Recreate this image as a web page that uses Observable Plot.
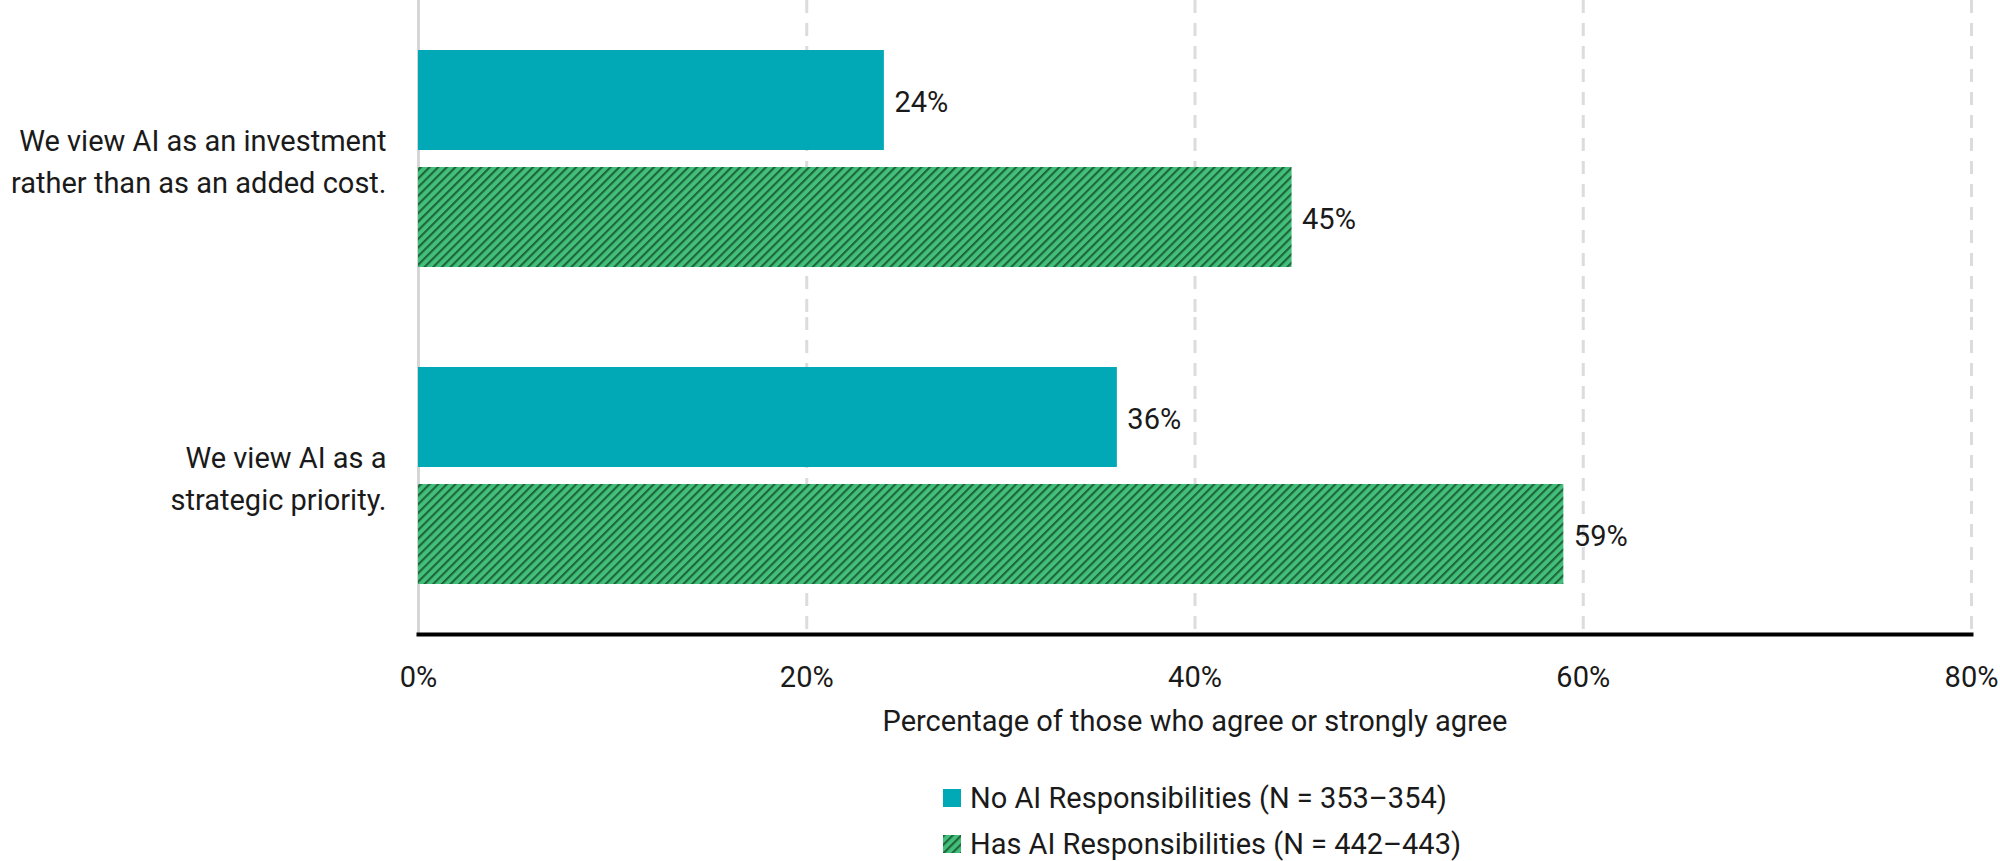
<!DOCTYPE html>
<html>
<head>
<meta charset="utf-8">
<script src="https://cdn.jsdelivr.net/npm/d3@7"></script>
<script src="https://cdn.jsdelivr.net/npm/@observablehq/plot@0.6"></script>
<style>
  html, body { margin: 0; padding: 0; background: #fff; }
  body { width: 2000px; height: 861px; overflow: hidden; font-family: Roboto, "Noto Sans", sans-serif; color: #1a1a1a; }
  #legend { padding-left: 943px; padding-top: 15px; font-size: 29px; }
  .row { display: flex; align-items: center; height: 46px; line-height: 46px; white-space: nowrap; }
  .sw { width: 18px; height: 18px; margin-right: 9px; flex: none; }
</style>
</head>
<body>
<div id="chart"></div>
<div id="legend"></div>
<script>
// ---- data ----
const questions = [
  "We view AI as an investment\nrather than as an added cost.",
  "We view AI as a\nstrategic priority."
];
const groups = [
  "No AI Responsibilities (N = 353–354)",
  "Has AI Responsibilities (N = 442–443)"
];
const noAIValues = [24, 36];
const hasAIValues = [45, 59];
const xTicks = [0, 20, 40, 60, 80];
const xLabel = "Percentage of those who agree or strongly agree";

const teal = "#00a9b5";
const green = "#42bf79";
const darkGreen = "#1e643c";

const rows = questions.flatMap((q, i) => [
  {question: q, group: groups[0], value: noAIValues[i]},
  {question: q, group: groups[1], value: hasAIValues[i]}
]);

const chart = Plot.plot({
  width: 2000,
  height: 760,
  marginLeft: 418,
  marginRight: 29,
  marginTop: 0,
  marginBottom: 126,
  style: {fontFamily: "Roboto, 'Noto Sans', sans-serif", fontSize: "29px", color: "#1a1a1a", background: "#fff"},
  x: {domain: [0, 80], ticks: xTicks},
  fy: {domain: questions, padding: 0, label: null},
  y: {domain: groups, paddingInner: 0.145, paddingOuter: 0.427, axis: null},
  marks: [
    Plot.ruleX(xTicks.slice(1), {stroke: "#dcdcdc", strokeWidth: 3, strokeDasharray: "13,10"}),
    Plot.ruleX([0], {stroke: "#d6d6d6", strokeWidth: 3}),
    Plot.barX(rows, {filter: d => d.group === groups[0], x: "value", y: "group", fy: "question", fill: teal}),
    Plot.barX(rows, {filter: d => d.group === groups[1], x: "value", y: "group", fy: "question", fill: "url(#hatchGreen)"}),
    Plot.text(rows, {x: "value", y: "group", fy: "question", text: d => d.value + "%", textAnchor: "start", dx: 10, dy: 2, fill: "#1a1a1a"}),
    Plot.frame({anchor: "bottom", stroke: "#000", strokeWidth: 4, facetAnchor: "bottom"}),
    Plot.axisFy({anchor: "left", tickSize: 0, tickPadding: 32, label: null, lineHeight: 1.45, fontSize: 29}),
    Plot.axisX({anchor: "bottom", ticks: xTicks, tickSize: 0, tickPadding: 32, tickFormat: d => d + "%",
      label: xLabel, labelAnchor: "center", labelArrow: "none", labelOffset: 96})
  ]
});

const defs = document.createElementNS("http://www.w3.org/2000/svg", "defs");
defs.innerHTML = `<pattern id="hatchGreen" patternUnits="userSpaceOnUse" width="6.1" height="6.1" patternTransform="rotate(45)">
  <rect width="6.1" height="6.1" fill="${green}"></rect><rect width="2.1" height="6.1" fill="${darkGreen}"></rect></pattern>`;
chart.insertBefore(defs, chart.firstChild);
document.getElementById("chart").appendChild(chart);

const legend = document.getElementById("legend");
groups.forEach((g, i) => {
  const row = document.createElement("div");
  row.className = "row";
  const fill = i === 0 ? teal : "url(#hatchGreen)";
  row.innerHTML = `<svg class="sw" viewBox="0 0 18 18"><rect width="18" height="18" fill="${fill}"></rect></svg><span>${g}</span>`;
  legend.appendChild(row);
});
</script>
</body>
</html>
